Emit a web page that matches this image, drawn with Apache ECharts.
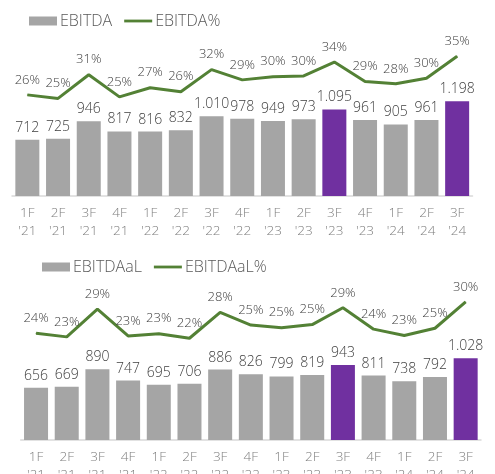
<!DOCTYPE html>
<html lang="es">
<head>
    <meta charset="UTF-8">
    <title>EBITDA / EBITDAaL</title>
    <script src="https://cdn.jsdelivr.net/npm/echarts@6/dist/echarts.min.js"></script>
    <style type="text/css">
        html, body {
            margin: 0;
            padding: 0;
            background: #ffffff;
        }

        #chart {
            width: 495px;
            height: 474px;
        }
    </style>
</head>
<body>
<div id="chart"></div>
<script type="text/javascript">
    // trimestres
    const quarters = ["1F\n'21", "2F\n'21", "3F\n'21", "4F\n'21", "1F\n'22", "2F\n'22", "3F\n'22", "4F\n'22",
        "1F\n'23", "2F\n'23", "3F\n'23", "4F\n'23", "1F\n'24", "2F\n'24", "3F\n'24"];
    // EBITDA (M€) y margen %
    const ebitda = [712, 725, 946, 817, 816, 832, 1010, 978, 949, 973, 1095, 961, 905, 961, 1198];
    const ebitdaPct = [25.6, 24.7, 30.7, 25.1, 27.4, 26.4, 32.0, 29.4, 30.2, 30.4, 33.9, 29.0, 28.4, 29.8, 35.4];
    // EBITDAaL (M€) y margen %
    const ebitdaal = [656, 669, 890, 747, 695, 706, 886, 826, 799, 819, 943, 811, 738, 792, 1028];
    const ebitdaalPct = [23.5, 22.7, 28.8, 22.9, 23.4, 22.4, 28.1, 25.3, 24.7, 25.4, 29.1, 24.4, 23.0, 24.6, 30.4];
    // trimestres resaltados (3F)
    const highlighted = [10, 14];

    const GREY = '#a5a5a5';
    const PURPLE = '#7030a0';
    const GREEN = '#538135';
    const FONT = 'Open Sans';

    function fmtNum(v) {
        if (v >= 1000) {
            return Math.floor(v / 1000) + '.' + String(v % 1000).padStart(3, '0');
        }
        return String(v);
    }

    function barData(values) {
        return values.map((v, i) => ({
            value: v,
            itemStyle: {color: highlighted.indexOf(i) !== -1 ? PURPLE : GREY}
        }));
    }

    function xAxis(gridIndex) {
        return {
            type: 'category',
            gridIndex: gridIndex,
            data: quarters,
            axisTick: {show: false},
            axisLine: {lineStyle: {color: '#d9d9d9', width: 1.5}},
            axisLabel: {
                color: '#7f7f7f', fontFamily: FONT, fontWeight: 300, fontSize: 13.5, lineHeight: 18,
                margin: 8, interval: 0
            }
        };
    }

    function legend(left, top, names) {
        return {
            left: left, top: top,
            itemWidth: 28, itemHeight: 9, itemGap: 12,
            textStyle: {color: '#595959', fontFamily: FONT, fontWeight: 300, fontSize: 16, padding: [0, 0, 0, -2]},
            data: [
                {name: names[0], icon: 'rect', itemStyle: {color: GREY}},
                {name: names[1], icon: 'path://M0,0H30V3H0Z', itemStyle: {color: GREEN}}
            ]
        };
    }

    const barLabel = {
        show: true, position: 'top', distance: 5,
        color: '#404040', fontFamily: FONT, fontWeight: 300, fontSize: 14,
        formatter: p => fmtNum(p.value)
    };
    const lineLabel = {
        show: true, position: 'top', distance: 8,
        color: '#404040', fontFamily: FONT, fontWeight: 300, fontSize: 13,
        formatter: p => Math.round(p.value) + '%'
    };

    const chart = echarts.init(document.getElementById('chart'));
    chart.setOption({
        animation: false,
        legend: [
            legend(24, 8, ['EBITDA', 'EBITDA%']),
            legend(37, 254, ['EBITDAaL', 'EBITDAaL%'])
        ],
        grid: [
            {left: 12, right: 22.5, top: 38, bottom: 278, outerBoundsMode: 'none'},
            {left: 20.7, right: 14, top: 281, bottom: 34, outerBoundsMode: 'none'}
        ],
        xAxis: [xAxis(0), xAxis(1)],
        yAxis: [
            {type: 'value', gridIndex: 0, min: 0, max: 2000, show: false},
            {type: 'value', gridIndex: 0, min: 0, max: 40, show: false},
            {type: 'value', gridIndex: 1, min: 0, max: 2000, show: false},
            {type: 'value', gridIndex: 1, min: 0, max: 35, show: false}
        ],
        series: [
            {
                name: 'EBITDA', type: 'bar', xAxisIndex: 0, yAxisIndex: 0,
                barWidth: 24, itemStyle: {color: GREY},
                label: barLabel, data: barData(ebitda)
            },
            {
                name: 'EBITDA%', type: 'line', xAxisIndex: 0, yAxisIndex: 1,
                symbol: 'circle', symbolSize: 1, itemStyle: {color: GREEN},
                lineStyle: {color: GREEN, width: 3},
                label: lineLabel, data: ebitdaPct
            },
            {
                name: 'EBITDAaL', type: 'bar', xAxisIndex: 1, yAxisIndex: 2,
                barWidth: 24, itemStyle: {color: GREY},
                label: barLabel, data: barData(ebitdaal)
            },
            {
                name: 'EBITDAaL%', type: 'line', xAxisIndex: 1, yAxisIndex: 3,
                symbol: 'circle', symbolSize: 1, itemStyle: {color: GREEN},
                lineStyle: {color: GREEN, width: 3},
                label: lineLabel, data: ebitdaalPct
            }
        ]
    });
</script>
</body>
</html>
